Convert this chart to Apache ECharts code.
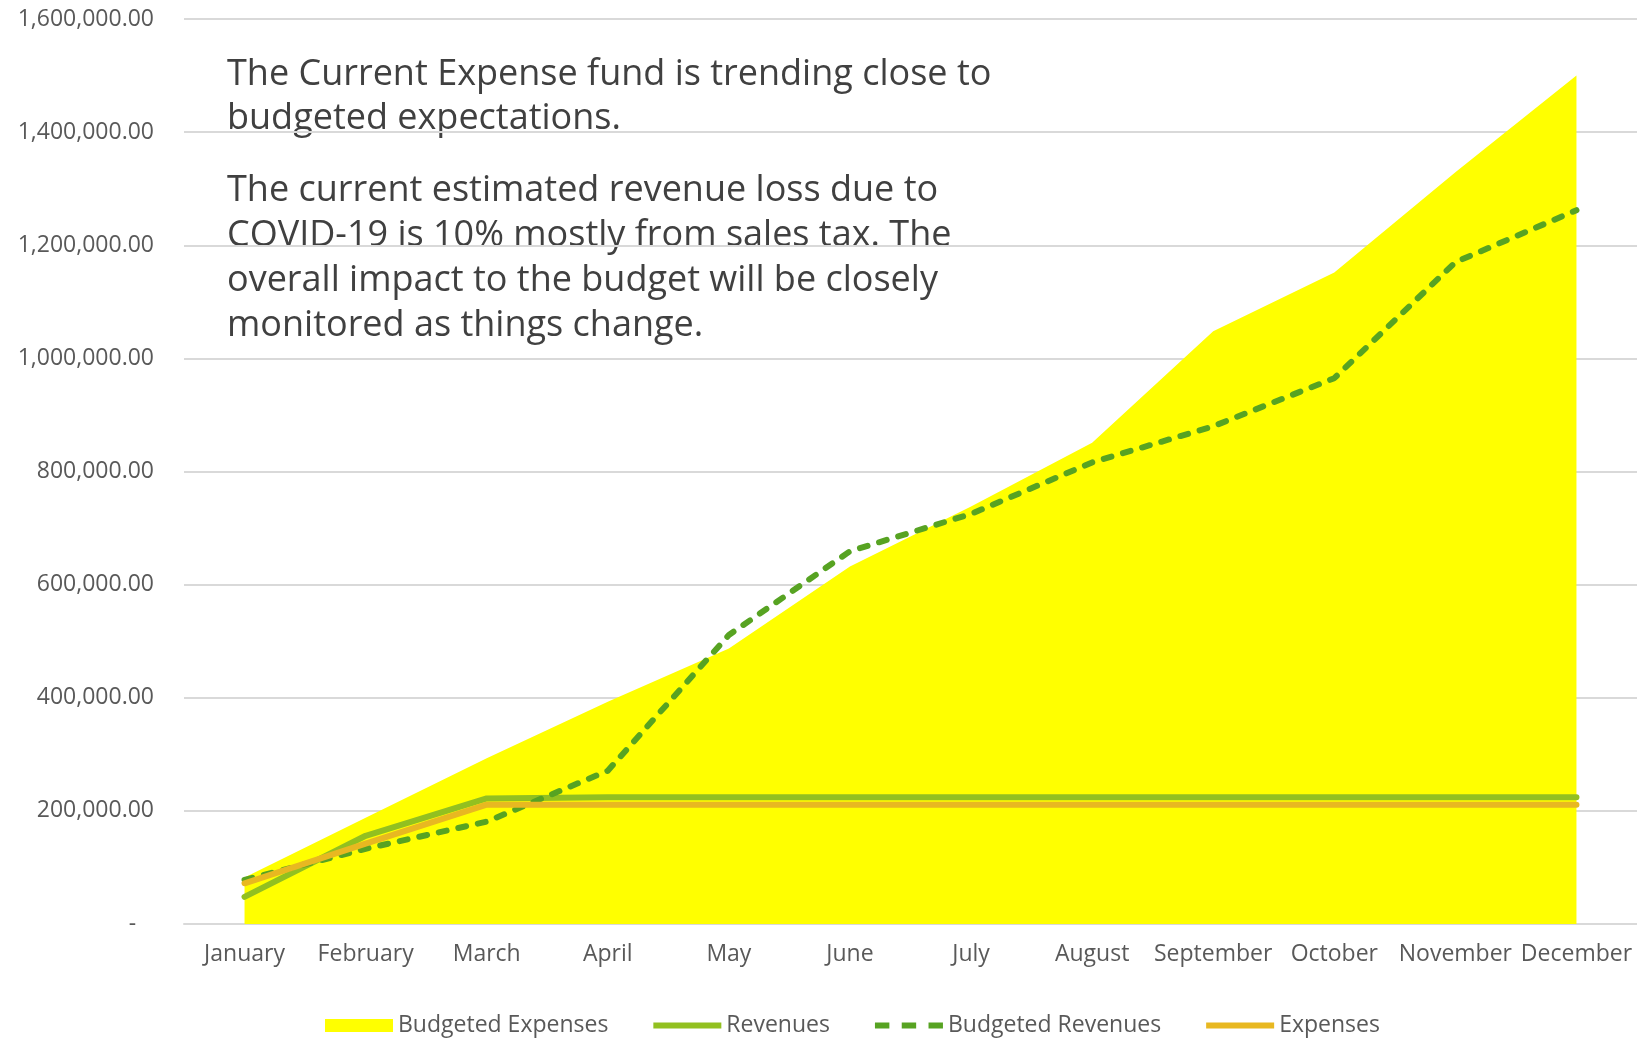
<!DOCTYPE html>
<html>
<head>
<meta charset="utf-8">
<script src="https://cdn.jsdelivr.net/npm/echarts@6/dist/echarts.min.js"></script>
<style>
  html, body { margin: 0; padding: 0; background: #fff; }
  #chart { width: 1637px; height: 1040px; }
</style>
</head>
<body>
<div id="chart"></div>
<script>
const months = ['January', 'February', 'March', 'April', 'May', 'June', 'July',
  'August', 'September', 'October', 'November', 'December']
const budgetedExpenses = [82000, 188000, 293000, 393000, 487000, 632000, 738000,
  851000, 1048000, 1152000, 1329000, 1500000]
const revenues = [48000, 156000, 222000, 224000, 224000, 224000, 224000,
  224000, 224000, 224000, 224000, 224000]
const budgetedRevenues = [78000, 133000, 181000, 271000, 511000, 659000, 725000,
  816000, 880000, 965000, 1170000, 1262000]
const expenses = [72000, 142000, 211000, 211000, 211000, 211000, 211000,
  211000, 211000, 211000, 211000, 211000]

const note1 = 'The Current Expense fund is trending close to\nbudgeted expectations.'
const note2 = 'The current estimated revenue loss due to\nCOVID-19 is 10% mostly from sales tax. The\noverall impact to the budget will be closely\nmonitored as things change.'

const font = 'Open Sans'
const chart = echarts.init(document.getElementById('chart'))

// legend icons: solid bar and three-dash bar
const barIcon = 'path://M0,0 h66 v6 h-66z'
const dashIcon = 'path://M0,0 h14 v6 h-14z M26,0 h14 v6 h-14z M52,0 h14 v6 h-14z'

function fmt (v) {
  if (v === 0) return '-   '
  return v.toLocaleString('en-US', { minimumFractionDigits: 2, maximumFractionDigits: 2 })
}

chart.setOption({
  animation: false,
  textStyle: { fontFamily: font },
  grid: { left: 184, right: 0, top: 19, bottom: 116 },
  legend: {
    bottom: -2,
    left: 320,
    itemWidth: 68,
    itemHeight: 13,
    itemGap: 45,
    textStyle: { color: '#595959', fontSize: 23, fontFamily: font },
    data: [
      { name: 'Budgeted Expenses', icon: 'rect' },
      { name: 'Revenues', icon: barIcon },
      { name: 'Budgeted Revenues', icon: dashIcon },
      { name: 'Expenses', icon: barIcon }
    ]
  },
  xAxis: {
    type: 'category',
    data: months,
    axisLine: { lineStyle: { color: '#d9d9d9', width: 2 } },
    axisTick: { show: false },
    axisLabel: { color: '#595959', fontSize: 23, margin: 19, interval: 0 }
  },
  yAxis: {
    type: 'value',
    min: 0,
    max: 1600000,
    interval: 200000,
    axisLine: { show: false },
    axisTick: { show: false },
    splitLine: { lineStyle: { color: '#d9d9d9', width: 2 } },
    axisLabel: { color: '#595959', fontSize: 23, margin: 30, formatter: fmt }
  },
  graphic: [
    {
      type: 'text', left: 227, top: 53,
      style: { text: note1, fill: '#404040', fontSize: 36, fontFamily: font, lineHeight: 44 }
    },
    {
      type: 'text', left: 227, top: 168,
      style: { text: note2, fill: '#404040', fontSize: 36, fontFamily: font, lineHeight: 45 }
    }
  ],
  series: [
    {
      name: 'Budgeted Expenses',
      type: 'line',
      data: budgetedExpenses,
      symbol: 'none',
      lineStyle: { width: 0, color: '#ffff00' },
      itemStyle: { color: '#ffff00' },
      areaStyle: { color: '#ffff00', opacity: 1 }
    },
    {
      name: 'Revenues',
      type: 'line',
      data: revenues,
      symbol: 'none',
      itemStyle: { color: '#92c020' },
      lineStyle: { color: '#92c020', width: 6, cap: 'round', join: 'round' }
    },
    {
      name: 'Budgeted Revenues',
      type: 'line',
      data: budgetedRevenues,
      symbol: 'none',
      itemStyle: { color: '#57a322' },
      lineStyle: { color: '#57a322', width: 6, type: [8, 12], cap: 'round', join: 'round' }
    },
    {
      name: 'Expenses',
      type: 'line',
      data: expenses,
      symbol: 'none',
      itemStyle: { color: '#e8b821' },
      lineStyle: { color: '#e8b821', width: 6, cap: 'round', join: 'round' }
    }
  ]
})
</script>
</body>
</html>
